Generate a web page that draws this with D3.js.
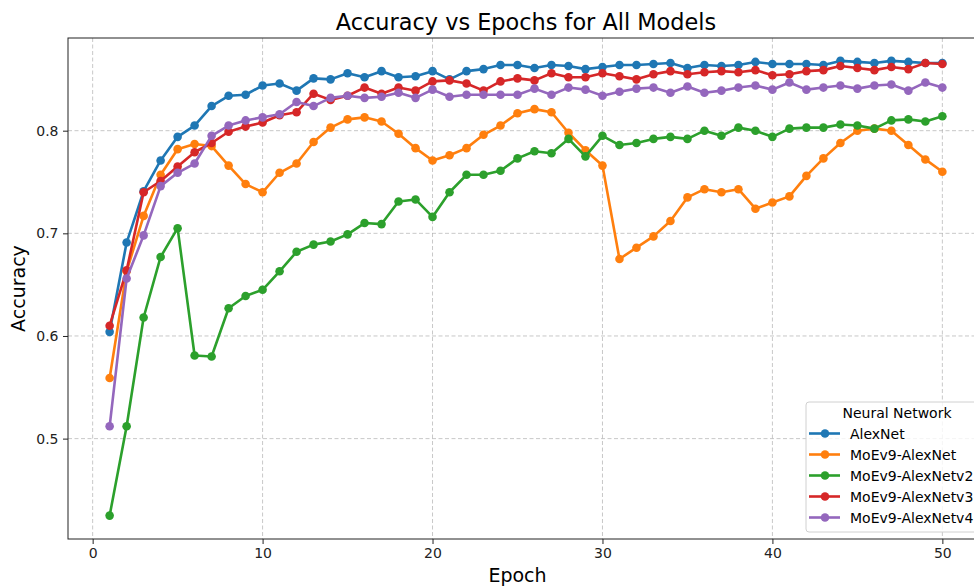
<!doctype html>
<html lang="en">
<head>
<meta charset="UTF-8">
<title>Accuracy vs Epochs</title>
<style>
    body { margin: 0; background: #fff; }
    text { font-family: "DejaVu Sans", sans-serif; }
</style>
</head>
<body>
<div class="canvas"></div>
<script src="https://d3js.org/d3.v7.min.js"></script>
<script>
    // data
    const epochs = d3.range(1, 51);
    const seriesNames = ['AlexNet', 'MoEv9-AlexNet', 'MoEv9-AlexNetv2', 'MoEv9-AlexNetv3', 'MoEv9-AlexNetv4'];
    const colors = ['#1f77b4', '#ff7f0e', '#2ca02c', '#d62728', '#9467bd'];

    const alexNet = [
        0.604, 0.691, 0.741, 0.771, 0.794, 0.805, 0.824, 0.834, 0.835, 0.844,
        0.846, 0.839, 0.851, 0.850, 0.856, 0.852, 0.858, 0.852, 0.853, 0.858,
        0.850, 0.858, 0.860, 0.864, 0.864, 0.861, 0.864, 0.863, 0.860, 0.862,
        0.864, 0.864, 0.865, 0.866, 0.861, 0.864, 0.863, 0.864, 0.867, 0.865,
        0.865, 0.865, 0.864, 0.868, 0.867, 0.866, 0.868, 0.867, 0.866, 0.866
    ];
    const moeAlexNet = [
        0.559, 0.663, 0.717, 0.757, 0.782, 0.787, 0.785, 0.766, 0.748, 0.740,
        0.759, 0.768, 0.789, 0.803, 0.811, 0.813, 0.809, 0.797, 0.783, 0.771,
        0.776, 0.783, 0.796, 0.805, 0.817, 0.821, 0.818, 0.798, 0.781, 0.766,
        0.675, 0.686, 0.697, 0.712, 0.735, 0.743, 0.740, 0.743, 0.724, 0.730,
        0.736, 0.756, 0.773, 0.788, 0.800, 0.802, 0.800, 0.786, 0.772, 0.760
    ];
    const moeAlexNetv2 = [
        0.425, 0.512, 0.618, 0.677, 0.705, 0.581, 0.580, 0.627, 0.639, 0.645,
        0.663, 0.682, 0.689, 0.692, 0.699, 0.710, 0.709, 0.731, 0.733, 0.716,
        0.740, 0.757, 0.757, 0.761, 0.773, 0.780, 0.778, 0.792, 0.775, 0.795,
        0.786, 0.788, 0.792, 0.794, 0.792, 0.800, 0.795, 0.803, 0.800, 0.794,
        0.802, 0.803, 0.803, 0.806, 0.805, 0.802, 0.810, 0.811, 0.809, 0.814
    ];
    const moeAlexNetv3 = [
        0.610, 0.664, 0.740, 0.751, 0.765, 0.779, 0.788, 0.799, 0.804, 0.808,
        0.815, 0.818, 0.836, 0.830, 0.834, 0.842, 0.836, 0.842, 0.839, 0.848,
        0.849, 0.846, 0.839, 0.848, 0.851, 0.849, 0.856, 0.852, 0.852, 0.856,
        0.853, 0.850, 0.855, 0.858, 0.855, 0.857, 0.858, 0.857, 0.859, 0.854,
        0.855, 0.858, 0.859, 0.863, 0.861, 0.859, 0.862, 0.860, 0.866, 0.865
    ];
    const moeAlexNetv4 = [
        0.512, 0.656, 0.698, 0.746, 0.759, 0.768, 0.795, 0.805, 0.810, 0.813,
        0.816, 0.828, 0.824, 0.832, 0.834, 0.832, 0.833, 0.837, 0.832, 0.840,
        0.833, 0.835, 0.835, 0.835, 0.835, 0.841, 0.835, 0.842, 0.840, 0.834,
        0.838, 0.841, 0.842, 0.837, 0.843, 0.837, 0.839, 0.842, 0.844, 0.840,
        0.847, 0.840, 0.842, 0.844, 0.841, 0.844, 0.845, 0.839, 0.847, 0.842
    ];
    const seriesValues = [alexNet, moeAlexNet, moeAlexNetv2, moeAlexNetv3, moeAlexNetv4];
    const xTicks = [0, 10, 20, 30, 40, 50];
    const yTicks = [0.5, 0.6, 0.7, 0.8];

    const svgWidth = 974;
    const svgHeight = 586;
    const margin = { top: 38, right: -10, bottom: 47, left: 68 };
    const graphWidth = svgWidth - margin.left - margin.right;
    const graphHeight = svgHeight - margin.top - margin.bottom;

    const svg = d3.select('.canvas').append('svg')
        .attr('width', svgWidth)
        .attr('height', svgHeight);

    svg.append('text')
        .attr('x', margin.left + graphWidth / 2)
        .attr('y', 29.5)
        .attr('text-anchor', 'middle')
        .attr('font-size', 22.4)
        .text('Accuracy vs Epochs for All Models');

    const graph = svg.append('g')
        .attr('transform', `translate(${margin.left}, ${margin.top})`);

    const x = d3.scaleLinear().domain([-1.45, 52.45]).range([0, graphWidth]);
    const y = d3.scaleLinear().domain([0.4022, 0.8903]).range([graphHeight, 0]);

    // grid
    graph.append('g')
        .selectAll('line.vg')
        .data(xTicks)
        .join('line')
            .attr('x1', d => x(d)).attr('x2', d => x(d))
            .attr('y1', 0).attr('y2', graphHeight)
            .attr('stroke', '#b0b0b0').attr('stroke-opacity', 0.7)
            .attr('stroke-dasharray', '4,2.5');
    graph.append('g')
        .selectAll('line.hg')
        .data(yTicks)
        .join('line')
            .attr('x1', 0).attr('x2', graphWidth)
            .attr('y1', d => y(d)).attr('y2', d => y(d))
            .attr('stroke', '#b0b0b0').attr('stroke-opacity', 0.7)
            .attr('stroke-dasharray', '4,2.5');

    // axes
    const xAxis = d3.axisBottom(x).tickValues(xTicks).tickSize(5).tickPadding(4).tickFormat(d3.format('d'));
    const yAxis = d3.axisLeft(y).tickValues(yTicks).tickSize(5).tickPadding(4.5).tickFormat(d3.format('.1f'));

    const xAxisGroup = graph.append('g').attr('transform', `translate(0, ${graphHeight})`).call(xAxis);
    const yAxisGroup = graph.append('g').call(yAxis);
    [xAxisGroup, yAxisGroup].forEach(g => {
        g.select('.domain').remove();
        g.selectAll('text').attr('font-size', 14).attr('fill', '#222').attr('font-family', '"DejaVu Sans", sans-serif');
        g.selectAll('line').attr('stroke', '#222');
    });

    // spines
    graph.append('rect')
        .attr('width', graphWidth).attr('height', graphHeight)
        .attr('fill', 'none').attr('stroke', '#222').attr('stroke-width', 1);

    // lines and markers
    const line = d3.line().x((d, i) => x(epochs[i])).y(d => y(d));
    seriesValues.forEach((vals, k) => {
        const g = graph.append('g');
        g.append('path')
            .datum(vals)
            .attr('d', line)
            .attr('fill', 'none')
            .attr('stroke', colors[k])
            .attr('stroke-width', 2.6)
            .attr('stroke-linejoin', 'round');
        g.selectAll('circle')
            .data(vals)
            .join('circle')
                .attr('cx', (d, i) => x(epochs[i]))
                .attr('cy', d => y(d))
                .attr('r', 4.3)
                .attr('fill', colors[k]);
    });

    // axis labels
    svg.append('text')
        .attr('x', margin.left + x(25))
        .attr('y', 582)
        .attr('text-anchor', 'middle')
        .attr('font-size', 19)
        .text('Epoch');
    svg.append('text')
        .attr('transform', `translate(25, ${margin.top + graphHeight / 2}) rotate(-90)`)
        .attr('text-anchor', 'middle')
        .attr('font-size', 19)
        .text('Accuracy');

    // legend
    const legend = svg.append('g').attr('transform', 'translate(806, 402)');
    legend.append('rect')
        .attr('width', 180).attr('height', 130).attr('rx', 3)
        .attr('fill', '#fff').attr('fill-opacity', 0.8)
        .attr('stroke', '#d0d0d0');
    legend.append('text')
        .attr('x', 91).attr('y', 15.5)
        .attr('text-anchor', 'middle')
        .attr('font-size', 14)
        .text('Neural Network');
    seriesNames.forEach((name, k) => {
        const cy = 31.5 + k * 21;
        legend.append('line')
            .attr('x1', 3).attr('x2', 34)
            .attr('y1', cy).attr('y2', cy)
            .attr('stroke', colors[k]).attr('stroke-width', 2.6);
        legend.append('circle')
            .attr('cx', 19).attr('cy', cy).attr('r', 4.3)
            .attr('fill', colors[k]);
        legend.append('text')
            .attr('x', 44).attr('y', cy + 5)
            .attr('font-size', 14)
            .text(name);
    });
</script>
</body>
</html>
